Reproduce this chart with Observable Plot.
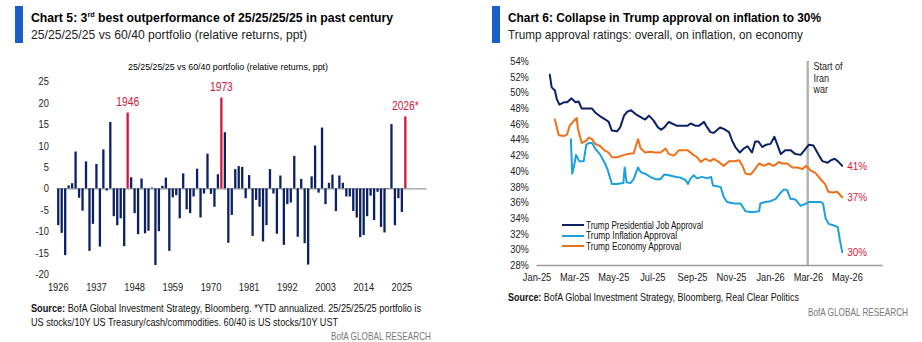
<!DOCTYPE html>
<html><head><meta charset="utf-8">
<script src="https://cdn.jsdelivr.net/npm/d3@7"></script>
<script src="https://cdn.jsdelivr.net/npm/@observablehq/plot@0.6"></script>
<style>
body{margin:0;background:#fff;}
#root{position:relative;width:922px;height:342px;overflow:hidden;font-family:"Liberation Sans Narrow","Arial Narrow","Liberation Sans",Arial,sans-serif;color:#000;}
.t{position:absolute;white-space:nowrap;line-height:1;transform-origin:0 50%;}
.accent{position:absolute;background:#1a5fc8;width:8px;height:37px;top:6px;}
.title{font-weight:bold;font-size:13.5px;color:#000;}
.sub{font-size:13.5px;color:#222;}
.src{font-size:11px;color:#111;}
.brand{font-size:11px;color:#777;}
.leg{font-size:10.5px;color:#111;}
.sw{position:absolute;height:2.4px;width:22px;}
svg{position:absolute;}
</style></head><body><div id="root"></div>
<script>
const FONT = '"Liberation Sans Narrow","Arial Narrow","Liberation Sans",Arial,sans-serif';
const NAVY = "#0c2164", LBLUE = "#1ca0dc", ORANGE = "#f0701a", RED = "#d4163c";

// ---- Chart 5 data ----
const firstYear = 1926;
const relReturns = [
 -8.6,-10.4,-15.6,0.7,1.2,8.6,-2.2,-5.2,6.3,-14.6,
 -8.3,5.7,-13.6,9.1,-0.5,15.5,-6.5,-8.6,-7.0,-13.5,
 17.7,2.6,-5.8,-10.7,2.3,-10.5,-9.9,0.2,-17.9,-10.0,
 0.6,2.5,-14.6,-2.1,-1.6,-7.0,3.5,-4.9,-5.8,-1.9,
 4.6,-6.8,-1.2,8.1,-1.3,-4.3,3.3,21.2,13.1,-12.7,
 -6.2,4.5,5.2,5.0,-2.3,3.1,-11.1,-2.7,-4.3,-12.4,
 -8.6,4.5,-1.2,-10.6,3.0,-13.2,-3.7,-3.3,7.6,-11.3,
 2.2,-12.8,-17.8,2.8,10.0,-1.0,14.2,-3.7,1.3,3.2,
 -5.3,3.0,1.3,-1.9,-1.9,-5.3,-6.8,-11.4,-10.9,-6.5,
 -1.7,-7.4,-0.8,-9.0,-10.3,-0.1,15.0,-8.6,-2.3,-5.5,
 16.8
];
const highlightYears = [1946, 1973, 2026];
const highlightLabels = ["1946", "1973", "2026*"];
const xTickYears = [1926,1937,1948,1959,1970,1981,1992,2003,2014,2025];
const yTicks5 = [-20,-15,-10,-5,0,5,10,15,20,25];

// ---- Chart 6 data ----
const jobApproval = [
["2025-01-21",52.3],["2025-01-24",50.7],["2025-01-29",50.3],["2025-02-01",49.2],["2025-02-05",48.5],["2025-02-12",48.8],["2025-02-17",48.8],["2025-02-24",49.3],["2025-03-02",48.8],["2025-03-07",48.9],["2025-03-12",48.0],["2025-03-20",48.0],["2025-03-28",48.0],["2025-04-02",47.5],["2025-04-10",47.0],["2025-04-18",46.6],["2025-04-23",46.3],["2025-04-28",45.2],["2025-05-06",45.1],["2025-05-11",45.6],["2025-05-17",47.1],["2025-05-22",47.6],["2025-05-28",47.8],["2025-06-04",47.3],["2025-06-12",46.9],["2025-06-19",46.6],["2025-06-25",47.1],["2025-07-02",46.5],["2025-07-09",45.6],["2025-07-14",45.3],["2025-07-19",45.6],["2025-07-26",46.3],["2025-07-31",46.1],["2025-08-08",45.8],["2025-08-16",45.8],["2025-08-24",45.8],["2025-08-29",46.1],["2025-09-06",45.8],["2025-09-11",45.8],["2025-09-19",46.3],["2025-09-24",45.6],["2025-09-29",45.0],["2025-10-04",44.9],["2025-10-14",45.6],["2025-10-20",45.4],["2025-10-28",45.0],["2025-11-02",43.9],["2025-11-07",43.1],["2025-11-14",42.4],["2025-11-20",42.9],["2025-11-26",43.2],["2025-12-03",42.4],["2025-12-08",43.8],["2025-12-13",43.8],["2025-12-19",43.1],["2025-12-25",43.4],["2026-01-01",43.5],["2026-01-07",44.4],["2026-01-12",43.3],["2026-01-17",42.2],["2026-01-24",42.7],["2026-02-01",42.7],["2026-02-09",42.2],["2026-02-17",42.1],["2026-02-23",42.7],["2026-03-02",43.4],["2026-03-09",43.3],["2026-03-15",42.4],["2026-03-23",41.3],["2026-03-31",41.1],["2026-04-05",41.4],["2026-04-11",41.6],["2026-04-16",41.3],["2026-04-23",40.7]
];
const inflationApproval = [
["2025-02-23",44.1],["2025-02-25",39.7],["2025-02-28",40.7],["2025-03-03",42.1],["2025-03-08",41.3],["2025-03-15",41.3],["2025-03-19",43.4],["2025-03-23",43.6],["2025-03-28",43.6],["2025-04-02",42.9],["2025-04-10",42.1],["2025-04-16",41.2],["2025-04-21",40.3],["2025-04-28",38.4],["2025-05-06",38.4],["2025-05-16",38.5],["2025-05-18",40.5],["2025-05-21",38.6],["2025-05-27",38.5],["2025-06-01",39.0],["2025-06-08",40.5],["2025-06-12",39.9],["2025-06-19",39.7],["2025-06-27",39.3],["2025-07-05",39.0],["2025-07-13",39.0],["2025-07-19",39.6],["2025-07-26",39.5],["2025-08-05",39.3],["2025-08-13",39.2],["2025-08-21",38.9],["2025-08-25",38.4],["2025-08-29",39.1],["2025-09-03",39.5],["2025-09-08",39.1],["2025-09-16",39.3],["2025-09-24",39.1],["2025-09-30",39.3],["2025-10-03",38.2],["2025-10-09",38.1],["2025-10-15",38.0],["2025-10-20",36.7],["2025-10-25",36.1],["2025-10-30",36.0],["2025-11-05",35.9],["2025-11-15",35.9],["2025-11-23",34.9],["2025-12-03",34.8],["2025-12-14",34.9],["2025-12-16",35.9],["2025-12-24",36.1],["2026-01-01",36.2],["2026-01-09",36.5],["2026-01-17",37.3],["2026-01-22",37.7],["2026-01-27",37.6],["2026-02-01",36.5],["2026-02-09",36.4],["2026-02-17",35.6],["2026-02-23",35.8],["2026-03-02",36.1],["2026-03-10",36.1],["2026-03-20",36.1],["2026-03-24",35.9],["2026-03-28",34.0],["2026-04-02",33.3],["2026-04-10",33.1],["2026-04-16",32.9],["2026-04-19",31.4],["2026-04-23",29.7]
];
const economyApproval = [
["2025-01-29",46.6],["2025-02-01",45.6],["2025-02-04",44.6],["2025-02-12",44.5],["2025-02-17",44.7],["2025-02-21",45.8],["2025-02-26",46.3],["2025-03-04",46.8],["2025-03-06",45.4],["2025-03-12",43.6],["2025-03-19",43.9],["2025-03-23",44.3],["2025-03-28",44.1],["2025-04-02",43.5],["2025-04-10",43.2],["2025-04-16",42.7],["2025-04-23",42.4],["2025-04-28",41.8],["2025-05-06",41.8],["2025-05-14",42.0],["2025-05-22",42.2],["2025-06-01",42.3],["2025-06-08",44.1],["2025-06-12",42.9],["2025-06-19",42.4],["2025-06-27",42.5],["2025-07-05",42.4],["2025-07-13",42.4],["2025-07-21",42.9],["2025-07-26",42.2],["2025-08-03",42.0],["2025-08-11",42.7],["2025-08-24",42.7],["2025-09-01",42.2],["2025-09-08",41.8],["2025-09-14",41.2],["2025-09-21",41.6],["2025-09-29",41.3],["2025-10-04",41.6],["2025-10-12",41.2],["2025-10-20",40.7],["2025-10-28",41.3],["2025-11-05",41.3],["2025-11-13",41.4],["2025-11-18",40.7],["2025-11-23",39.7],["2025-12-01",39.6],["2025-12-06",40.1],["2025-12-14",41.0],["2025-12-22",40.7],["2025-12-29",41.0],["2026-01-06",40.7],["2026-01-14",41.2],["2026-01-19",41.0],["2026-01-27",41.0],["2026-02-04",40.5],["2026-02-12",40.5],["2026-02-20",40.3],["2026-02-25",40.7],["2026-03-05",40.1],["2026-03-12",39.8],["2026-03-20",39.0],["2026-03-27",38.4],["2026-04-01",37.4],["2026-04-08",37.3],["2026-04-15",37.4],["2026-04-23",36.7]
];
const seriesNames = ["Trump Presidential Job Approval", "Trump Inflation Approval", "Trump Economy Approval"];
const endLabels = ["41%", "37%", "30%"];
const warStart = "2026-02-28";
const warLabel = "Start of\nIran\nwar";
const monthTicks = ["2025-01-01","2025-03-01","2025-05-01","2025-07-01","2025-09-01","2025-11-01","2026-01-01","2026-03-01","2026-05-01"];
const yTicks6 = [28,30,32,34,36,38,40,42,44,46,48,50,52,54];

// ---- build ----
const root = document.getElementById("root");
function addText(cls, html, left, top, w) {
  const d = document.createElement("div");
  d.className = "t " + cls; d.innerHTML = html;
  d.style.left = left + "px"; d.style.top = top + "px";
  if (w) d.dataset.w = w;
  root.appendChild(d); return d;
}
function addBox(cls, left, top, bg, w, h) {
  const d = document.createElement("div");
  d.className = cls; d.style.left = left + "px"; d.style.top = top + "px";
  if (bg) d.style.background = bg;
  if (w) d.style.width = w + "px";
  if (h) d.style.height = h + "px";
  root.appendChild(d); return d;
}
// condense SVG text horizontally around its anchor (svg must be in the document)
function narrow(svg, s) {
  svg.querySelectorAll("text").forEach(t => {
    const anchor = getComputedStyle(t).textAnchor;
    const g = document.createElementNS("http://www.w3.org/2000/svg", "g");
    const tr = t.getAttribute("transform");
    if (tr) { g.setAttribute("transform", tr); t.removeAttribute("transform"); }
    t.parentNode.insertBefore(g, t);
    g.appendChild(t);
    t.style.transformBox = "fill-box";
    t.style.transformOrigin = anchor === "end" ? "100% 50%" : anchor === "middle" ? "50% 50%" : "0% 50%";
    t.style.transform = `scaleX(${s})`;
  });
}

// Headers
addBox("accent", 15, 6);
addText("title", 'Chart 5: 3<sup style="font-size:8px;vertical-align:5px;line-height:0">rd</sup> best outperformance of 25/25/25/25 in past century', 30.7, 11.3, 362);
addText("sub", "25/25/25/25 vs 60/40 portfolio (relative returns, ppt)", 30.7, 27.9, 276);
addBox("accent", 492.3, 6);
addText("title", "Chart 6: Collapse in Trump approval on inflation to 30%", 507.7, 11.3, 313);
addText("sub", "Trump approval ratings: overall, on inflation, on economy", 507.7, 27.9, 295);

// Chart 5
const bars = relReturns.map((v, i) => ({year: firstYear + i, value: v}));
const hl = highlightYears.map((y, i) => ({year: y, label: highlightLabels[i], value: bars.find(b => b.year === y).value}));
const left = Plot.plot({
  width: 440, height: 240,
  marginLeft: 56.7, marginRight: 13.3, marginTop: 26.3, marginBottom: 21,
  x: {type: "linear", domain: [1925.7, 2032.3]},
  y: {domain: [-20, 25]},
  style: {fontFamily: FONT, fontSize: "10.8px", color: "#222", background: "transparent", overflow: "visible"},
  marks: [
    Plot.ruleY([0], {stroke: "#9a9a9a", strokeWidth: 1.3}),
    Plot.ruleX(bars.filter(d => !highlightYears.includes(d.year)), {x: "year", y1: 0, y2: "value", stroke: NAVY, strokeWidth: 2.3}),
    Plot.ruleX(bars.filter(d => highlightYears.includes(d.year)), {x: "year", y1: 0, y2: "value", stroke: RED, strokeWidth: 2.3}),
    Plot.text(hl, {x: "year", y: "value", text: "label", dy: -11, fill: RED, fontSize: 12}),
    Plot.axisY({ticks: yTicks5, tickSize: 0, tickPadding: 8.4, tickFormat: d => String(d), label: null}),
    Plot.axisX({ticks: xTickYears, tickSize: 0, tickPadding: 9, tickFormat: d => String(d), label: null})
  ]
});
left.style.left = "0px"; left.style.top = "55px";
root.appendChild(left);
narrow(left, 0.86);
addText("", "25/25/25/25 vs 60/40 portfolio (relative returns, ppt)", 127.7, 62, 200).style.fontSize = "9.5px";

// Chart 6
const parse = d3.utcParse("%Y-%m-%d");
const toRows = (arr, name) => arr.map(([d, v]) => ({date: parse(d), value: v, series: name}));
const sJob = toRows(jobApproval, seriesNames[0]);
const sInf = toRows(inflationApproval, seriesNames[1]);
const sEco = toRows(economyApproval, seriesNames[2]);
const ends = [sJob, sEco, sInf].map((s, i) => ({...s[s.length - 1], label: endLabels[i]}));
const war = parse(warStart);
const right = Plot.plot({
  width: 440, height: 240,
  marginLeft: 76.5, marginRight: 17.3, marginTop: 11, marginBottom: 25,
  x: {type: "utc", domain: [parse("2025-01-01"), parse("2026-06-26")]},
  y: {domain: [28, 54]},
  style: {fontFamily: FONT, fontSize: "10.8px", color: "#222", background: "transparent", overflow: "visible"},
  marks: [
    Plot.ruleX([war], {stroke: "#b4b4b4", strokeWidth: 2.5}),
    Plot.ruleY([28], {stroke: "#9a9a9a", strokeWidth: 1.3}),
    Plot.line(sEco, {x: "date", y: "value", stroke: ORANGE, strokeWidth: 2}),
    Plot.line(sInf, {x: "date", y: "value", stroke: LBLUE, strokeWidth: 2}),
    Plot.line(sJob, {x: "date", y: "value", stroke: NAVY, strokeWidth: 2}),
    Plot.text(ends, {x: "date", y: "value", text: "label", dx: 5, textAnchor: "start", fill: RED, fontSize: 11.5}),
    Plot.text([warLabel], {x: () => war, y: () => 54, text: d => d, dx: 6, textAnchor: "start", lineAnchor: "top", lineHeight: 1.12, fill: "#222", fontSize: 10.5}),
    Plot.axisY({ticks: yTicks6, tickSize: 0, tickPadding: 8.2, tickFormat: d => d + "%", label: null}),
    Plot.axisX({ticks: monthTicks.map(parse), tickSize: 0, tickPadding: 8.2, tickFormat: d3.utcFormat("%b-%y"), label: null})
  ]
});
right.style.left = "460px"; right.style.top = "50px";
root.appendChild(right);
narrow(right, 0.86);

// legend
const legColors = [NAVY, LBLUE, ORANGE];
const legY = [225, 235.7, 246];
const legW = [117, 91, 95];
seriesNames.forEach((n, i) => {
  addBox("sw", 561.7, legY[i] - 1.2, legColors[i]);
  addText("leg", n, 586, legY[i] - 5.5, legW[i]);
});

// footers
addText("src", "<b>Source:</b> BofA Global Investment Strategy, Bloomberg. *YTD annualized. 25/25/25/25 portfolio is", 31, 302.7, 390);
addText("src", "US stocks/10Y US Treasury/cash/commodities. 60/40 is US stocks/10Y UST", 31, 317.4, 307);
addText("brand", "BofA GLOBAL RESEARCH", 330.7, 331.4, 100);
addText("src", "<b>Source:</b> BofA Global Investment Strategy, Bloomberg, Real Clear Politics", 508.3, 292, 291);
addText("brand", "BofA GLOBAL RESEARCH", 807.7, 307.4, 100);

// fit widths
document.querySelectorAll(".t").forEach(el => {
  const w = el.getBoundingClientRect().width;
  if (el.dataset.w) el.style.transform = `scaleX(${+el.dataset.w / w})`;
});
</script></body></html>
